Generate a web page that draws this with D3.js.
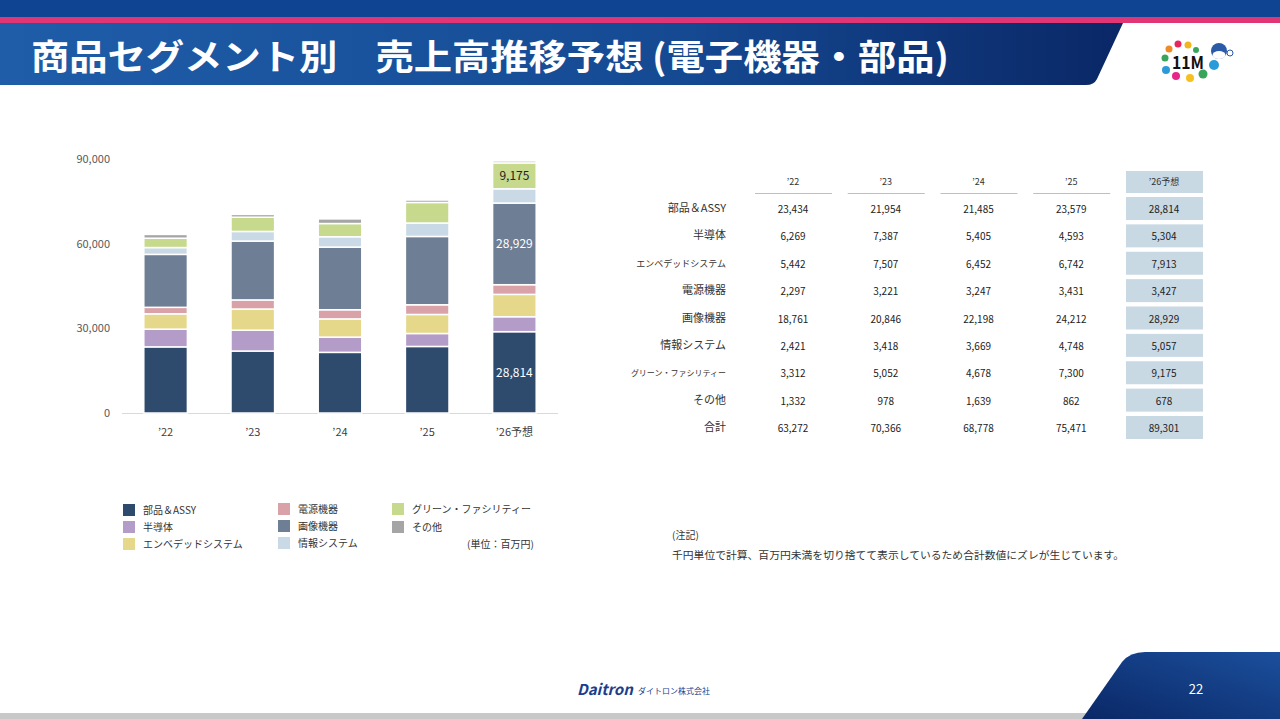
<!DOCTYPE html>
<html><head><meta charset="utf-8">
<script src="https://cdn.jsdelivr.net/npm/d3@7"></script>
<style>
html,body{margin:0;padding:0;background:#fff;}
svg{display:block;font-family:"Noto Sans CJK JP","Noto Sans",sans-serif;}
</style></head><body>
<svg id="c" width="1280" height="719"></svg>
<script>
const years = ["’22","’23","’24","’25","’26予想"];
const segments = ["部品＆ASSY","半導体","エンベデッドシステム","電源機器","画像機器","情報システム","グリーン・ファシリティー","その他"];
const partsAssy   = [23434,21954,21485,23579,28814];
const semis       = [6269,7387,5405,4593,5304];
const embedded    = [5442,7507,6452,6742,7913];
const power       = [2297,3221,3247,3431,3427];
const imaging     = [18761,20846,22198,24212,28929];
const infoSys     = [2421,3418,3669,4748,5057];
const green       = [3312,5052,4678,7300,9175];
const others      = [1332,978,1639,862,678];
const totals      = [63272,70366,68778,75471,89301];
const yTicks = [0,30000,60000,90000];
const colors = ["#2E4A6D","#B49CC9","#E6D88A","#D9A1A8","#6D7E95","#C9DAE6","#C6D98C","#A5A5A5"];

const seriesVals = [partsAssy,semis,embedded,power,imaging,infoSys,green,others];
const svg = d3.select("#c");
const fmt = d3.format(",");

// ---------- header ----------
const defs = svg.append("defs");
const g1 = defs.append("linearGradient").attr("id","hb").attr("x1","0").attr("x2","1");
g1.append("stop").attr("offset","0").attr("stop-color","#1F5DA9");
g1.append("stop").attr("offset","0.6").attr("stop-color","#154A93");
g1.append("stop").attr("offset","1").attr("stop-color","#0A2766");
const g2 = defs.append("linearGradient").attr("id","fb").attr("x1","0").attr("x2","1").attr("y1","1").attr("y2","0");
g2.append("stop").attr("offset","0").attr("stop-color","#0A2766");
g2.append("stop").attr("offset","1").attr("stop-color","#1B4F9C");

svg.append("rect").attr("x",0).attr("y",0).attr("width",1280).attr("height",18).attr("fill","#0F4493");
svg.append("rect").attr("x",0).attr("y",17).attr("width",1280).attr("height",6).attr("fill","#E03676");
svg.append("path").attr("d","M0,23 L1123,23 L1097,79 Q1094,85 1086,85 L0,85 Z").attr("fill","url(#hb)");
svg.append("text").attr("x",31).attr("y",70).attr("fill","#fff").attr("font-size",35).attr("font-weight","bold")
  .attr("textLength",918).attr("lengthAdjust","spacingAndGlyphs")
  .text("商品セグメント別　売上高推移予想 (電子機器・部品)");

// logo
const logo = svg.append("g");
const dots = [[1169,49,"#F08A24",3.5],[1178,44,"#E8265C",3.5],[1188,45,"#F2B51C",3.5],[1196,50,"#3AA55A",3],[1165,58,"#3AA55A",3.5],[1166,70,"#2A9BD8",4],[1176,76,"#E8268A",4],[1190,78,"#F6C11F",4],[1203,74,"#3AA55A",4.5],[1214,65,"#2A9BD8",5]];
dots.forEach(d=>logo.append("circle").attr("cx",d[0]).attr("cy",d[1]).attr("r",d[3]).attr("fill",d[2]));
logo.append("text").attr("x",1172).attr("y",69).attr("font-size",17).attr("font-weight","bold").attr("fill","#111")
  .attr("textLength",32).attr("lengthAdjust","spacingAndGlyphs").text("11M");
logo.append("circle").attr("cx",1219).attr("cy",51).attr("r",8).attr("fill","#2A5AA8");
logo.append("ellipse").attr("cx",1219).attr("cy",55).attr("rx",6.5).attr("ry",4).attr("fill","#fff");
logo.append("circle").attr("cx",1230).attr("cy",53).attr("r",3).attr("fill","none").attr("stroke","#2A5AA8");

// ---------- chart ----------
const x = d3.scaleBand().domain(years).range([122,558]).paddingInner(0.5).paddingOuter(0.25);
const y = d3.scaleLinear().domain([0,90000]).range([413,159]);

const tableData = years.map((yr,i)=>{const o={year:yr}; segments.forEach((s,k)=>o[s]=seriesVals[k][i]); return o;});
const stack = d3.stack().keys(segments)(tableData);

svg.append("g").selectAll("text").data(yTicks).join("text")
  .attr("x",110).attr("y",d=>y(d)+4).attr("text-anchor","end").attr("font-size",11).attr("fill","#595959")
  .text(d=>fmt(d));
svg.append("line").attr("x1",122).attr("x2",558).attr("y1",y(0)+0.5).attr("y2",y(0)+0.5).attr("stroke","#D9D9D9").attr("stroke-width",1);

const layers = svg.append("g").selectAll("g").data(stack).join("g").attr("fill",(d,i)=>colors[i]);
layers.selectAll("rect").data(d=>d).join("rect")
  .attr("x",d=>x(d.data.year)).attr("width",x.bandwidth())
  .attr("y",d=>y(d[1])).attr("height",d=>Math.max(0,y(d[0])-y(d[1])))
  .attr("stroke","#fff").attr("stroke-width",1.5);

svg.append("g").selectAll("text").data(years).join("text")
  .attr("x",d=>x(d)+x.bandwidth()/2).attr("y",436).attr("text-anchor","middle").attr("font-size",11).attr("fill","#404040")
  .text(d=>d);

// labels in forecast bar
const last = years.length-1;
const labelSpec = [[0,"#fff"],[4,"#fff"],[6,"#222"]];
labelSpec.forEach(([k,c])=>{
  const d = stack[k][last];
  svg.append("text").attr("x",x(years[last])+x.bandwidth()/2).attr("y",(y(d[0])+y(d[1]))/2+4.5)
    .attr("text-anchor","middle").attr("font-size",12).attr("fill",c).text(fmt(seriesVals[k][last]));
});

// ---------- legend ----------
const legPos = [[123,510],[123,527],[123,544],[278,509],[278,526],[278,543],[392,509],[392,527]];
const leg = svg.append("g").selectAll("g").data(segments).join("g")
  .attr("transform",(d,i)=>`translate(${legPos[i][0]},${legPos[i][1]})`);
leg.append("rect").attr("x",0).attr("y",-6).attr("width",12).attr("height",12).attr("fill",(d,i)=>colors[i]);
leg.append("text").attr("x",20).attr("y",4).attr("font-size",10).attr("fill","#333").text(d=>d);
svg.append("text").attr("x",467).attr("y",548).attr("font-size",10).attr("fill","#333").text("(単位：百万円)");

// ---------- table ----------
const colX = d3.scalePoint().domain(years).range([793,1164]);
const rowLabels = segments.concat(["合計"]);
const rowVals = seriesVals.concat([totals]);
const rowY = d3.scalePoint().domain(rowLabels).range([209,428]);
const labelSize = {"エンベデッドシステム":9,"グリーン・ファシリティー":8};
const tbl = svg.append("g");
// header
tbl.append("rect").attr("x",colX(years[last])-38).attr("y",171).attr("width",77).attr("height",22).attr("fill","#C9D9E4");
tbl.selectAll(".hd").data(years).join("text").attr("class","hd")
  .attr("x",d=>colX(d)).attr("y",185).attr("text-anchor","middle").attr("font-size",9).attr("fill","#333").text(d=>d);
tbl.selectAll(".ul").data(years.slice(0,last)).join("line").attr("class","ul")
  .attr("x1",d=>colX(d)-38).attr("x2",d=>colX(d)+39).attr("y1",193.5).attr("y2",193.5).attr("stroke","#BFBFBF").attr("stroke-width",1.2);
// highlight cells
tbl.selectAll(".hl").data(rowLabels).join("rect").attr("class","hl")
  .attr("x",colX(years[last])-38).attr("y",d=>rowY(d)-12).attr("width",77).attr("height",23).attr("fill","#C9D9E4");
// row labels
tbl.selectAll(".rl").data(rowLabels).join("text").attr("class","rl")
  .attr("x",726).attr("y",d=>rowY(d)+3).attr("text-anchor","end")
  .attr("font-size",d=>labelSize[d]||11).attr("fill","#333").text(d=>d);
// values
rowLabels.forEach((r,ri)=>{
  tbl.selectAll(".v"+ri).data(years).join("text").attr("class","v"+ri)
    .attr("x",d=>colX(d)).attr("y",rowY(r)+4).attr("text-anchor","middle").attr("font-size",10).attr("fill","#222")
    .text((d,i)=>fmt(rowVals[ri][i]));
});

// notes
svg.append("text").attr("x",672).attr("y",539).attr("font-size",10).attr("fill","#333").text("(注記)");
svg.append("text").attr("x",672).attr("y",559).attr("font-size",10.5).attr("fill","#333")
  .attr("textLength",452).attr("lengthAdjust","spacingAndGlyphs")
  .text("千円単位で計算、百万円未満を切り捨てて表示しているため合計数値にズレが生じています。");

// ---------- footer ----------
svg.append("rect").attr("x",0).attr("y",713).attr("width",1100).attr("height",6).attr("fill","#C8C8C8");
svg.append("path").attr("d","M1082,719 L1122,662 Q1130,652 1145,652 L1280,652 L1280,719 Z").attr("fill","url(#fb)");
svg.append("text").attr("x",1196).attr("y",694).attr("text-anchor","middle").attr("font-size",13).attr("fill","#fff").text("22");
svg.append("text").attr("x",577).attr("y",695).attr("font-size",15).attr("font-weight","bold").attr("font-style","italic")
  .attr("fill","#1A3E8C").text("Daitron");
svg.append("text").attr("x",638).attr("y",694).attr("font-size",8).attr("fill","#1A3E8C").text("ダイトロン株式会社");
</script>
</body></html>
